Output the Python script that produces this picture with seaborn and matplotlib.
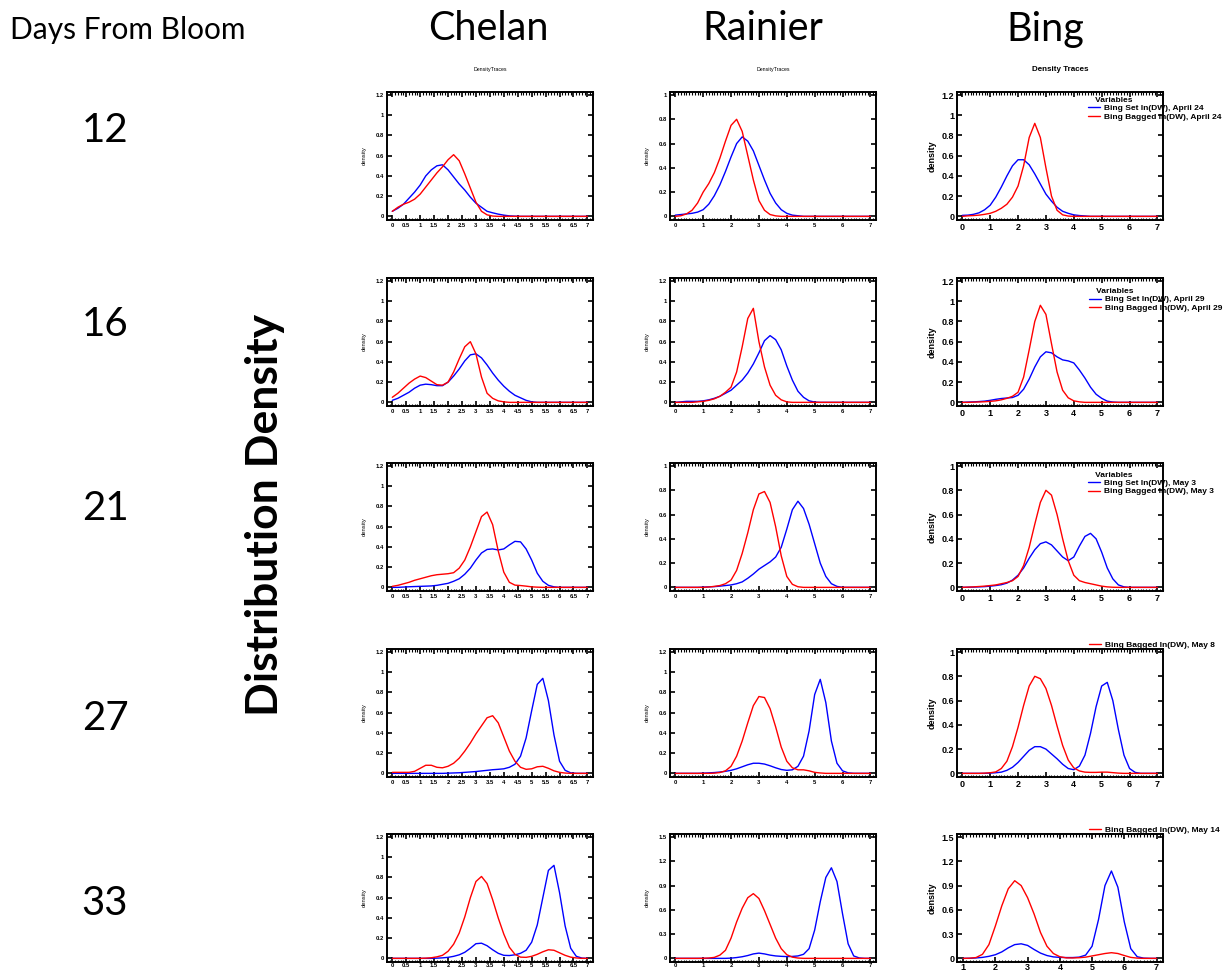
import numpy as np
import pandas as pd
import matplotlib.pyplot as plt
import seaborn as sns
from matplotlib.ticker import MultipleLocator, FuncFormatter

# ln(DW) grid the traces were read at
x_grid = [0.0, 0.2, 0.4, 0.6, 0.8, 1.0, 1.2, 1.4, 1.6, 1.8, 2.0, 2.2, 2.4, 2.6, 2.8, 3.0, 3.2, 3.4,
          3.6, 3.8, 4.0, 4.2, 4.4, 4.6, 4.8, 5.0, 5.2, 5.4, 5.6, 5.8, 6.0, 6.2, 6.4, 6.6, 6.8, 7.0]
x_grid_b33 = [1.0, 1.2, 1.4, 1.6, 1.8, 2.0, 2.2, 2.4, 2.6, 2.8, 3.0, 3.2, 3.4, 3.6, 3.8, 4.0,
              4.2, 4.4, 4.6, 4.8, 5.0, 5.2, 5.4, 5.6, 5.8, 6.0, 6.2, 6.4, 6.6, 6.8, 7.0]

cultivars = ["Chelan", "Rainier", "Bing"]
days = ["12", "16", "21", "27", "33"]
bing_dates = ["April 24", "April 29", "May 3", "May 8", "May 14"]

# ---- Chelan (blue = set, red = bagged)
chelan12_set = [0.05, 0.08, 0.12, 0.18, 0.24, 0.31, 0.40, 0.46, 0.50, 0.51, 0.46, 0.39, 0.32, 0.26, 0.19, 0.13, 0.09, 0.05,
                0.035, 0.022, 0.012, 0.005, 0.002, 0, 0, 0, 0, 0, 0, 0, 0, 0, 0, 0, 0, 0]
chelan12_bag = [0.05, 0.09, 0.12, 0.14, 0.17, 0.22, 0.29, 0.36, 0.43, 0.49, 0.56, 0.61, 0.55, 0.42, 0.28, 0.14, 0.05, 0.015,
                0.003, 0, 0, 0, 0, 0, 0, 0, 0, 0, 0, 0, 0, 0, 0, 0, 0, 0]
chelan16_set = [0.02, 0.04, 0.07, 0.10, 0.14, 0.17, 0.18, 0.175, 0.165, 0.165, 0.20, 0.26, 0.33, 0.41, 0.47, 0.48, 0.44, 0.37,
                0.29, 0.22, 0.16, 0.11, 0.07, 0.045, 0.02, 0.005, 0, 0, 0, 0, 0, 0, 0, 0, 0, 0]
chelan16_bag = [0.05, 0.09, 0.14, 0.19, 0.23, 0.26, 0.245, 0.21, 0.175, 0.17, 0.20, 0.30, 0.43, 0.55, 0.60, 0.48, 0.25, 0.09,
                0.04, 0.015, 0.005, 0, 0, 0, 0, 0, 0, 0, 0, 0, 0, 0, 0, 0, 0, 0]
chelan21_set = [0, 0, 0.003, 0.006, 0.008, 0.01, 0.012, 0.014, 0.02, 0.03, 0.04, 0.06, 0.085, 0.13, 0.19, 0.27, 0.34, 0.375,
                0.38, 0.37, 0.38, 0.42, 0.455, 0.45, 0.38, 0.27, 0.14, 0.06, 0.02, 0.005, 0, 0, 0, 0, 0, 0]
chelan21_bag = [0.01, 0.02, 0.035, 0.05, 0.07, 0.085, 0.10, 0.115, 0.125, 0.13, 0.135, 0.145, 0.19, 0.27, 0.40, 0.55, 0.70, 0.745,
                0.62, 0.36, 0.15, 0.05, 0.022, 0.018, 0.012, 0.005, 0.002, 0, 0, 0, 0, 0, 0, 0, 0, 0]
chelan27_set = [0, 0, 0, 0, 0, 0, 0, 0, 0, 0, 0.002, 0.004, 0.006, 0.01, 0.014, 0.018, 0.024, 0.03,
                0.036, 0.04, 0.045, 0.06, 0.09, 0.17, 0.35, 0.62, 0.88, 0.94, 0.72, 0.38, 0.12, 0.03, 0.005, 0, 0, 0]
chelan27_bag = [0.01, 0.01, 0.01, 0.01, 0.02, 0.05, 0.08, 0.08, 0.06, 0.055, 0.07, 0.10, 0.15, 0.22, 0.30, 0.39, 0.47, 0.55,
                0.57, 0.50, 0.36, 0.22, 0.12, 0.06, 0.04, 0.045, 0.065, 0.07, 0.05, 0.025, 0.01, 0.003, 0, 0, 0, 0]
chelan33_set = [0, 0, 0, 0, 0, 0, 0, 0, 0.002, 0.005, 0.01, 0.02, 0.035, 0.06, 0.10, 0.145, 0.15, 0.125,
                0.085, 0.05, 0.03, 0.028, 0.035, 0.05, 0.08, 0.16, 0.33, 0.60, 0.87, 0.92, 0.65, 0.32, 0.10, 0.02, 0.003, 0]
chelan33_bag = [0, 0, 0, 0, 0, 0, 0.002, 0.006, 0.015, 0.03, 0.07, 0.14, 0.25, 0.41, 0.60, 0.76, 0.81, 0.74,
                0.58, 0.40, 0.24, 0.11, 0.04, 0.012, 0.01, 0.02, 0.04, 0.065, 0.085, 0.08, 0.055, 0.03, 0.012, 0.004, 0, 0]

# ---- Rainier
rainier12_set = [0.01, 0.015, 0.02, 0.025, 0.035, 0.055, 0.10, 0.17, 0.26, 0.37, 0.49, 0.60, 0.655, 0.62, 0.54, 0.42, 0.30, 0.19,
                 0.11, 0.055, 0.025, 0.01, 0.005, 0, 0, 0, 0, 0, 0, 0, 0, 0, 0, 0, 0, 0]
rainier12_bag = [0, 0.005, 0.02, 0.05, 0.11, 0.20, 0.27, 0.36, 0.48, 0.62, 0.75, 0.80, 0.70, 0.50, 0.30, 0.13, 0.05, 0.015,
                 0.004, 0, 0, 0, 0, 0, 0, 0, 0, 0, 0, 0, 0, 0, 0, 0, 0, 0]
rainier16_set = [0, 0.005, 0.01, 0.01, 0.01, 0.015, 0.025, 0.04, 0.06, 0.09, 0.12, 0.17, 0.22, 0.29, 0.38, 0.49, 0.61, 0.66,
                 0.62, 0.52, 0.36, 0.22, 0.11, 0.05, 0.015, 0.003, 0, 0, 0, 0, 0, 0, 0, 0, 0, 0]
rainier16_bag = [0, 0, 0, 0, 0.005, 0.01, 0.02, 0.035, 0.06, 0.10, 0.15, 0.30, 0.55, 0.83, 0.93, 0.60, 0.35, 0.17,
                 0.07, 0.025, 0.005, 0, 0, 0, 0, 0, 0, 0, 0, 0, 0, 0, 0, 0, 0, 0]
rainier21_set = [0, 0, 0, 0, 0, 0.002, 0.004, 0.006, 0.01, 0.015, 0.02, 0.03, 0.045, 0.075, 0.11, 0.15, 0.18, 0.21,
                 0.25, 0.33, 0.48, 0.64, 0.71, 0.65, 0.52, 0.36, 0.20, 0.09, 0.03, 0.008, 0, 0, 0, 0, 0, 0]
rainier21_bag = [0, 0, 0, 0, 0, 0, 0.003, 0.008, 0.015, 0.03, 0.06, 0.14, 0.28, 0.45, 0.64, 0.77, 0.79, 0.70,
                 0.50, 0.26, 0.09, 0.025, 0.005, 0, 0, 0, 0, 0, 0, 0, 0, 0, 0, 0, 0, 0]
rainier27_set = [0, 0, 0, 0, 0, 0.002, 0.005, 0.008, 0.013, 0.02, 0.03, 0.045, 0.065, 0.085, 0.10, 0.10, 0.092, 0.075,
                 0.055, 0.038, 0.03, 0.035, 0.07, 0.17, 0.42, 0.78, 0.93, 0.70, 0.32, 0.10, 0.025, 0.005, 0, 0, 0, 0]
rainier27_bag = [0, 0, 0, 0, 0, 0, 0, 0.002, 0.008, 0.025, 0.07, 0.17, 0.32, 0.50, 0.67, 0.76, 0.75, 0.64,
                 0.46, 0.26, 0.12, 0.055, 0.035, 0.035, 0.025, 0.01, 0.004, 0, 0, 0, 0, 0, 0, 0, 0, 0]
rainier33_set = [0, 0, 0, 0, 0, 0, 0, 0, 0, 0, 0.003, 0.01, 0.02, 0.035, 0.055, 0.065, 0.055, 0.04,
                 0.03, 0.025, 0.022, 0.024, 0.03, 0.05, 0.12, 0.35, 0.70, 1.00, 1.12, 0.95, 0.55, 0.18, 0.03, 0.005, 0, 0]
rainier33_bag = [0, 0, 0, 0, 0, 0.001, 0.004, 0.012, 0.04, 0.10, 0.25, 0.45, 0.62, 0.75, 0.80, 0.74, 0.59, 0.42,
                 0.25, 0.12, 0.045, 0.015, 0.004, 0, 0, 0, 0, 0, 0, 0, 0, 0, 0, 0, 0, 0]

# ---- Bing
bing12_set = [0.01, 0.012, 0.02, 0.035, 0.065, 0.11, 0.19, 0.29, 0.40, 0.50, 0.56, 0.56, 0.51, 0.42, 0.32, 0.22, 0.15, 0.09,
              0.05, 0.03, 0.015, 0.008, 0.004, 0, 0, 0, 0, 0, 0, 0, 0, 0, 0, 0, 0, 0]
bing12_bag = [0, 0.005, 0.008, 0.012, 0.02, 0.03, 0.05, 0.08, 0.12, 0.19, 0.30, 0.50, 0.78, 0.92, 0.78, 0.48, 0.20, 0.06,
              0.015, 0.003, 0, 0, 0, 0, 0, 0, 0, 0, 0, 0, 0, 0, 0, 0, 0, 0]
bing16_set = [0, 0.003, 0.005, 0.008, 0.012, 0.02, 0.03, 0.038, 0.043, 0.048, 0.07, 0.13, 0.23, 0.35, 0.45, 0.50, 0.49, 0.45,
              0.42, 0.41, 0.39, 0.32, 0.24, 0.15, 0.08, 0.04, 0.012, 0.003, 0, 0, 0, 0, 0, 0, 0, 0]
bing16_bag = [0, 0, 0.002, 0.004, 0.006, 0.01, 0.015, 0.025, 0.04, 0.06, 0.10, 0.25, 0.52, 0.80, 0.96, 0.87, 0.58, 0.30,
              0.12, 0.045, 0.015, 0.005, 0, 0, 0, 0, 0, 0, 0, 0, 0, 0, 0, 0, 0, 0]
bing21_set = [0, 0.001, 0.002, 0.004, 0.006, 0.01, 0.015, 0.022, 0.035, 0.06, 0.10, 0.16, 0.24, 0.31, 0.36, 0.375, 0.35, 0.30,
              0.25, 0.22, 0.25, 0.34, 0.42, 0.445, 0.40, 0.29, 0.16, 0.07, 0.02, 0.004, 0, 0, 0, 0, 0, 0]
bing21_bag = [0, 0.002, 0.004, 0.007, 0.01, 0.015, 0.02, 0.03, 0.04, 0.055, 0.09, 0.18, 0.33, 0.52, 0.70, 0.80, 0.76, 0.60,
              0.40, 0.22, 0.10, 0.055, 0.04, 0.03, 0.02, 0.01, 0.004, 0.001, 0, 0, 0, 0, 0, 0, 0, 0]
bing27_set = [0, 0, 0, 0, 0, 0.002, 0.005, 0.01, 0.025, 0.05, 0.09, 0.14, 0.19, 0.22, 0.22, 0.20, 0.16, 0.12,
              0.075, 0.04, 0.03, 0.06, 0.15, 0.33, 0.55, 0.72, 0.75, 0.60, 0.36, 0.15, 0.04, 0.008, 0, 0, 0, 0]
bing27_bag = [0, 0, 0, 0, 0.002, 0.005, 0.012, 0.04, 0.10, 0.22, 0.38, 0.56, 0.72, 0.80, 0.78, 0.70, 0.56, 0.39,
              0.23, 0.11, 0.045, 0.02, 0.01, 0.008, 0.008, 0.01, 0.01, 0.006, 0.002, 0, 0, 0, 0, 0, 0, 0]
bing33_set = [0, 0.001, 0.005, 0.012, 0.025, 0.045, 0.08, 0.13, 0.17, 0.18, 0.16, 0.11, 0.065, 0.035, 0.018, 0.012,
              0.01, 0.01, 0.015, 0.04, 0.15, 0.48, 0.90, 1.08, 0.88, 0.45, 0.12, 0.02, 0.003, 0, 0]
bing33_bag = [0, 0.002, 0.01, 0.05, 0.17, 0.40, 0.65, 0.86, 0.96, 0.90, 0.75, 0.55, 0.32, 0.15, 0.06, 0.02,
              0.006, 0.005, 0.008, 0.015, 0.03, 0.045, 0.06, 0.07, 0.06, 0.035, 0.012, 0.003, 0, 0, 0]

traces = {
    ("Chelan", 0): (chelan12_set, chelan12_bag), ("Chelan", 1): (chelan16_set, chelan16_bag),
    ("Chelan", 2): (chelan21_set, chelan21_bag), ("Chelan", 3): (chelan27_set, chelan27_bag),
    ("Chelan", 4): (chelan33_set, chelan33_bag),
    ("Rainier", 0): (rainier12_set, rainier12_bag), ("Rainier", 1): (rainier16_set, rainier16_bag),
    ("Rainier", 2): (rainier21_set, rainier21_bag), ("Rainier", 3): (rainier27_set, rainier27_bag),
    ("Rainier", 4): (rainier33_set, rainier33_bag),
    ("Bing", 0): (bing12_set, bing12_bag), ("Bing", 1): (bing16_set, bing16_bag),
    ("Bing", 2): (bing21_set, bing21_bag), ("Bing", 3): (bing27_set, bing27_bag),
    ("Bing", 4): (bing33_set, bing33_bag),
}
# y axis top per panel
ytop = {"Chelan": [1.2, 1.2, 1.2, 1.2, 1.2], "Rainier": [1, 1.2, 1, 1.2, 1.5], "Bing": [1.2, 1.2, 1, 1, 1.5]}

sns.set_theme(style="white")
plt.rcParams['font.family'] = ['Liberation Sans', 'DejaVu Sans']
plt.rcParams['text.color'] = 'black'
plt.rcParams['axes.labelcolor'] = 'black'
plt.rcParams['xtick.color'] = 'black'
plt.rcParams['ytick.color'] = 'black'

fig = plt.figure(figsize=(12.25, 9.72), dpi=100)
W, H = 1225, 972
col_left = [387, 670, 957]
row_top = [92, 278, 463, 649, 834]
aw, ah = 206, 128
head_font = ["Lato", "DejaVu Sans"]
leg_fs = 6.0

for c, cult in enumerate(cultivars):
    for r in range(5):
        ax = fig.add_axes([col_left[c] / W, 1 - (row_top[r] + ah) / H, aw / W, ah / H])
        ys, yb = traces[(cult, r)]
        bing = cult == "Bing"
        xs = x_grid_b33 if (bing and r == 4) else x_grid
        lab_s = "Bing Set In(DW), " + bing_dates[r]
        lab_b = "Bing Bagged In(DW), " + bing_dates[r]
        sns.lineplot(x=xs, y=ys, color="#0000ff", lw=1.0, ax=ax, label=lab_s if bing and r < 3 else None)
        sns.lineplot(x=xs, y=yb, color="#ff0000", lw=1.0, ax=ax, label=lab_b if bing else None)

        top = ytop[cult][r]
        ax.set_ylim(-0.03 * top, top * 1.025)
        x0 = 1 if (bing and r == 4) else 0
        ax.set_xlim(x0 - 0.19, 7.2)
        ax.xaxis.set_major_locator(MultipleLocator(0.5 if cult == "Chelan" else 1))
        ax.xaxis.set_minor_locator(MultipleLocator(0.1))
        ax.yaxis.set_major_locator(MultipleLocator(0.3 if top == 1.5 else 0.2))
        fmt = FuncFormatter(lambda v, p: f"{v:g}")
        ax.xaxis.set_major_formatter(fmt)
        ax.yaxis.set_major_formatter(fmt)

        fs = 6.5 if bing else 4.2
        ax.tick_params(which="major", direction="in", length=3.5, width=1.2, top=True, right=True,
                       bottom=True, left=True, labelsize=fs, pad=2)
        if r == 4:
            ax.tick_params(axis="x", which="major", pad=0.8)
        ax.tick_params(which="minor", direction="in", length=1.8, width=0.8, top=True, bottom=True,
                       left=False, right=False)
        for t in ax.get_xticklabels() + ax.get_yticklabels():
            t.set_fontweight("bold")
        for s in ax.spines.values():
            s.set_color("black")
            s.set_linewidth(1.4)
        ax.set_ylabel("density", fontsize=fs, fontweight="bold" if bing else "normal")
        ax.yaxis.set_label_coords(-0.1, 0.5)
        ax.set_xlabel("")

        if r == 0:
            if bing:
                ax.set_title("Density Traces", fontsize=5.8, fontweight="bold", pad=15)
            else:
                ax.set_title("DensityTraces", fontsize=3.8, pad=15)

        if bing:
            if r < 3:
                anchors = [(0.635, 0.96), (0.64, 0.92), (0.635, 0.93)]
                leg = ax.legend(loc="upper left", bbox_to_anchor=anchors[r], frameon=False, title="   Variables",
                                prop={"size": leg_fs, "weight": "bold"}, handlelength=1.5, handletextpad=0.4,
                                borderaxespad=0, borderpad=0, labelspacing=0.05)
                leg.get_title().set_fontweight("bold")
                leg.get_title().set_fontsize(leg_fs)
                leg._legend_box.align = "left"
            else:
                ax.legend(loc="lower left", bbox_to_anchor=(0.64, 1.0), frameon=False,
                          prop={"size": leg_fs, "weight": "bold"}, handlelength=1.5, handletextpad=0.4,
                          borderaxespad=0, borderpad=0)

# headings and row labels
fig.text(10 / W, 1 - 30 / H, "Days From Bloom", fontsize=21.5, family=head_font, ha="left", va="center")
for c, cult in enumerate(cultivars):
    fig.text([488, 763, 1045][c] / W, 1 - 29 / H, cult, fontsize=28.5, family=head_font,
             ha="center", va="center")
for r, d in enumerate(days):
    fig.text(105 / W, 1 - [131, 325, 508, 718, 903][r] / H, d, fontsize=29, family=head_font,
             ha="center", va="center")
fig.text(265 / W, 1 - 515 / H, "Distribution Density", fontsize=32, fontweight="bold",
         family=head_font, rotation=90, ha="center", va="center")

fig.savefig("out.png", dpi=100)
